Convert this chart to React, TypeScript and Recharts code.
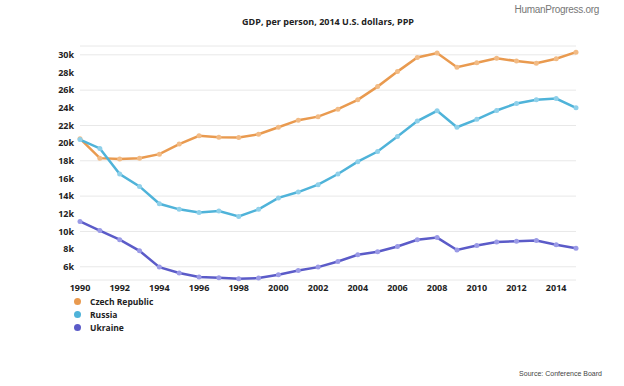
import { LineChart, Line, XAxis, YAxis, CartesianGrid } from 'recharts'

const years = [
  1990, 1991, 1992, 1993, 1994, 1995, 1996, 1997, 1998, 1999, 2000, 2001, 2002,
  2003, 2004, 2005, 2006, 2007, 2008, 2009, 2010, 2011, 2012, 2013, 2014, 2015,
]

const czech = [
  20500, 18300, 18200, 18300, 18750, 19900, 20830, 20680, 20640, 21000, 21800, 22600, 23000,
  23850, 24900, 26400, 28100, 29700, 30200, 28600, 29100, 29600, 29300, 29050, 29550, 30300,
]

const russia = [
  20400, 19400, 16500, 15100, 13130, 12500, 12150, 12300, 11700, 12500, 13800, 14460, 15300,
  16500, 17900, 19050, 20750, 22500, 23660, 21800, 22700, 23700, 24500, 24900, 25050, 24000,
]

const ukraine = [
  11130, 10100, 9060, 7800, 5960, 5290, 4830, 4750, 4650, 4720, 5100, 5580, 5960,
  6600, 7360, 7700, 8300, 9060, 9300, 7900, 8400, 8800, 8900, 8980, 8500, 8100,
]

const yTicks = [6000, 8000, 10000, 12000, 14000, 16000, 18000, 20000, 22000, 24000, 26000, 28000, 30000]
const xTicks = [1990, 1992, 1994, 1996, 1998, 2000, 2002, 2004, 2006, 2008, 2010, 2012, 2014]

const seriesInfo = [
  { key: 'czech', name: 'Czech Republic', color: '#e99a4f', dot: '#f2bb85' },
  { key: 'russia', name: 'Russia', color: '#4fb3d9', dot: '#8fd0ea' },
  { key: 'ukraine', name: 'Ukraine', color: '#5b5bc8', dot: '#9a9ae6' },
]

const data = years.map((year, i) => ({
  year,
  czech: czech[i],
  russia: russia[i],
  ukraine: ukraine[i],
}))

const font = '"Open Sans", sans-serif'

export default function App() {
  return (
    <div style={{ position: 'absolute', left: 0, top: 0, width: 624, height: 386, background: '#fff', fontFamily: font }}>
      <div style={{ position: 'absolute', right: 25, top: 4, fontSize: 10, color: '#777', letterSpacing: -0.3, fontFamily: '"Liberation Sans", sans-serif' }}>
        HumanProgress.org
      </div>
      <div style={{ position: 'absolute', left: 80, width: 496, top: 15, textAlign: 'center', fontSize: 9, fontWeight: 700, color: '#222' }}>
        GDP, per person, 2014 U.S. dollars, PPP
      </div>
      <LineChart width={624} height={386} data={data} margin={{ top: 46, right: 48, bottom: 76, left: 0 }}>
        <CartesianGrid vertical={false} stroke="#e8e8e8" />
        <XAxis
          dataKey="year"
          type="number"
          domain={[1990, 2015]}
          ticks={xTicks}
          axisLine={false}
          tickLine={false}
          tickSize={0}
          tickMargin={5}
          height={30}
          tick={{ fontSize: 9, fontWeight: 700, fill: '#222', fontFamily: font }}
        />
        <YAxis
          type="number"
          domain={[4500, 31000]}
          ticks={yTicks}
          axisLine={false}
          tickLine={false}
          tickSize={0}
          tickMargin={6}
          width={80}
          tickFormatter={(v) => `${v / 1000}k`}
          tick={{ fontSize: 9, fontWeight: 700, fill: '#222', fontFamily: font }}
        />
        {seriesInfo.map((s) => (
          <Line
            key={s.key}
            dataKey={s.key}
            name={s.name}
            stroke={s.color}
            strokeWidth={2.5}
            dot={{ r: 2.5, fill: s.dot, stroke: 'none' }}
            isAnimationActive={false}
          />
        ))}
      </LineChart>
      <div style={{ position: 'absolute', left: 74, top: 295 }}>
        {seriesInfo.map((s) => (
          <div key={s.key} style={{ display: 'flex', alignItems: 'center', height: 13, fontSize: 8.5, fontWeight: 700, color: '#222' }}>
            <span style={{ display: 'inline-block', width: 7, height: 7, borderRadius: 4, background: s.color, marginRight: 9 }} />
            {s.name}
          </div>
        ))}
      </div>
      <div style={{ position: 'absolute', right: 22, top: 370, fontSize: 7, color: '#444', fontFamily: '"Liberation Sans", sans-serif' }}>
        Source: Conference Board
      </div>
    </div>
  )
}
